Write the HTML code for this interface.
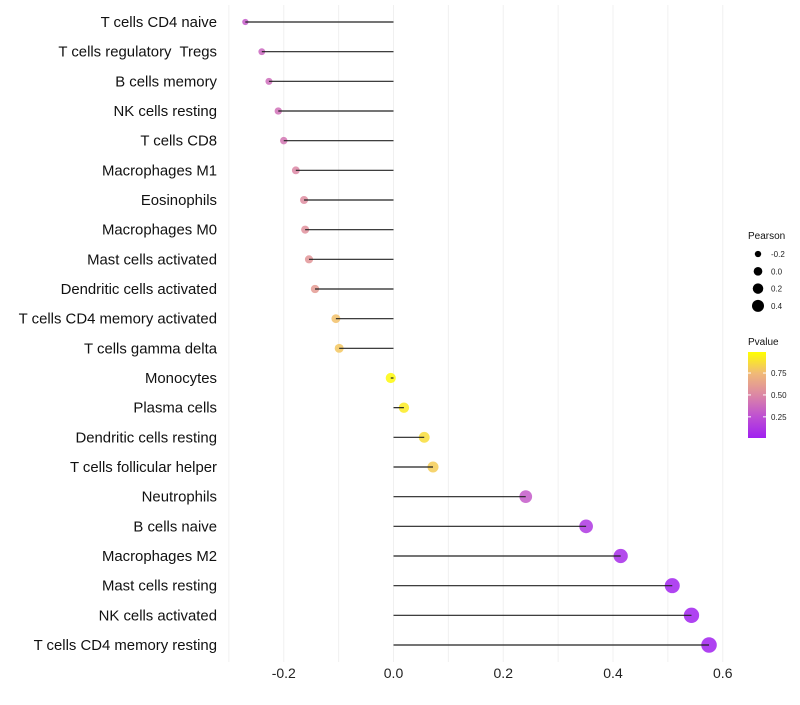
<!DOCTYPE html>
<html><head><meta charset="utf-8"><style>
body{margin:0;background:#fff;font-family:"Liberation Sans",sans-serif;}
text{white-space:pre;}
</style></head><body>
<svg id="c" width="800" height="700" xmlns="http://www.w3.org/2000/svg" font-family="Liberation Sans, sans-serif"></svg>
<script>
const categories=["T cells CD4 naive","T cells regulatory  Tregs","B cells memory","NK cells resting","T cells CD8","Macrophages M1","Eosinophils","Macrophages M0","Mast cells activated","Dendritic cells activated","T cells CD4 memory activated","T cells gamma delta","Monocytes","Plasma cells","Dendritic cells resting","T cells follicular helper","Neutrophils","B cells naive","Macrophages M2","Mast cells resting","NK cells activated","T cells CD4 memory resting"];
const pearson=[-0.27,-0.24,-0.227,-0.21,-0.2,-0.178,-0.163,-0.161,-0.154,-0.143,-0.105,-0.099,-0.005,0.019,0.056,0.072,0.241,0.351,0.414,0.508,0.543,0.575];
const pvalue=[0.3,0.35,0.38,0.4,0.42,0.5,0.53,0.55,0.57,0.6,0.78,0.8,0.98,0.93,0.88,0.82,0.3,0.12,0.06,0.02,0.01,0.005];
const xTicks=[-0.2,0,0.2,0.4,0.6];
const xTickLabels=["-0.2","0.0","0.2","0.4","0.6"];
const sizeLegend=[-0.2,0,0.2,0.4];
const colorTicks=[0.25,0.5,0.75];

const svg=document.getElementById('c');
const NS='http://www.w3.org/2000/svg';
function mk(t,a,p){const e=document.createElementNS(NS,t);for(const k in a)e.setAttribute(k,a[k]);(p||svg).appendChild(e);return e;}
const x=v=>393.5+v*548.75;
const y=i=>22+i*(623/21);
const cy=p=>437-(p-0.02)/(0.97)*85;
const rad=v=>Math.sqrt(Math.max(3,26+60*v));
const stops=[[0,[160,32,240]],[0.25,[190,80,210]],[0.5,[220,135,165]],[0.75,[240,185,120]],[1,[255,255,0]]];
function col(p){p=Math.max(0,Math.min(1,p));for(let i=1;i<stops.length;i++){if(p<=stops[i][0]){const a=stops[i-1],b=stops[i],t=(p-a[0])/(b[0]-a[0]);return 'rgb('+a[1].map((c,k)=>Math.round(c+(b[1][k]-c)*t)).join(',')+')';}}return 'rgb(255,255,0)';}

[-0.3,-0.2,-0.1,0,0.1,0.2,0.3,0.4,0.5,0.6].forEach(v=>{const g=mk('line',{x1:x(v),x2:x(v),y1:5,y2:662,stroke:'#f0f0f0','stroke-width':1});

});
xTicks.forEach((v,i)=>{const t=mk('text',{x:x(v),y:678,'text-anchor':'middle','font-size':14,fill:'#222'});t.textContent=xTickLabels[i];

});
categories.forEach((c,i)=>{
 const t=mk('text',{x:217,y:y(i)+5,'text-anchor':'end','font-size':14.9,fill:'#111'});t.textContent=c;
 
 
 const pt=mk('circle',{cx:x(pearson[i]),cy:y(i),r:rad(pearson[i]),fill:col(pvalue[i]),'fill-opacity':0.85});
 
 
 const s=mk('line',{x1:x(0),x2:x(pearson[i]),y1:y(i),y2:y(i),stroke:'#222','stroke-width':1.2});
 
 
});
const lt=mk('text',{x:748,y:239,'font-size':10,fill:'#111'});lt.textContent='Pearson';


sizeLegend.forEach((v,i)=>{const yy=254+i*17.3;
 const c=mk('circle',{cx:758,cy:yy,r:rad(v)*0.85,fill:'#000'});
 
 
 const t=mk('text',{x:771,y:yy+3,'font-size':8,fill:'#222'});t.textContent=v.toFixed(1);
 
 });
const ct=mk('text',{x:748,y:345,'font-size':10,fill:'#111'});ct.textContent='Pvalue';


const defs=mk('defs',{});const lg=mk('linearGradient',{id:'g',x1:0,y1:1,x2:0,y2:0},defs);
stops.forEach(s=>mk('stop',{offset:s[0],'stop-color':'rgb('+s[1].join(',')+')'},lg));
const bar=mk('rect',{x:748,y:352,width:18,height:86,fill:'url(#g)'});


colorTicks.forEach(v=>{const t=mk('text',{x:771,y:cy(v)+3,'font-size':8,fill:'#222'});t.textContent=v.toFixed(2);


mk('line',{x1:748,x2:751,y1:cy(v),y2:cy(v),stroke:'#fff'});mk('line',{x1:763,x2:766,y1:cy(v),y2:cy(v),stroke:'#fff'});});
</script>
</body></html>
